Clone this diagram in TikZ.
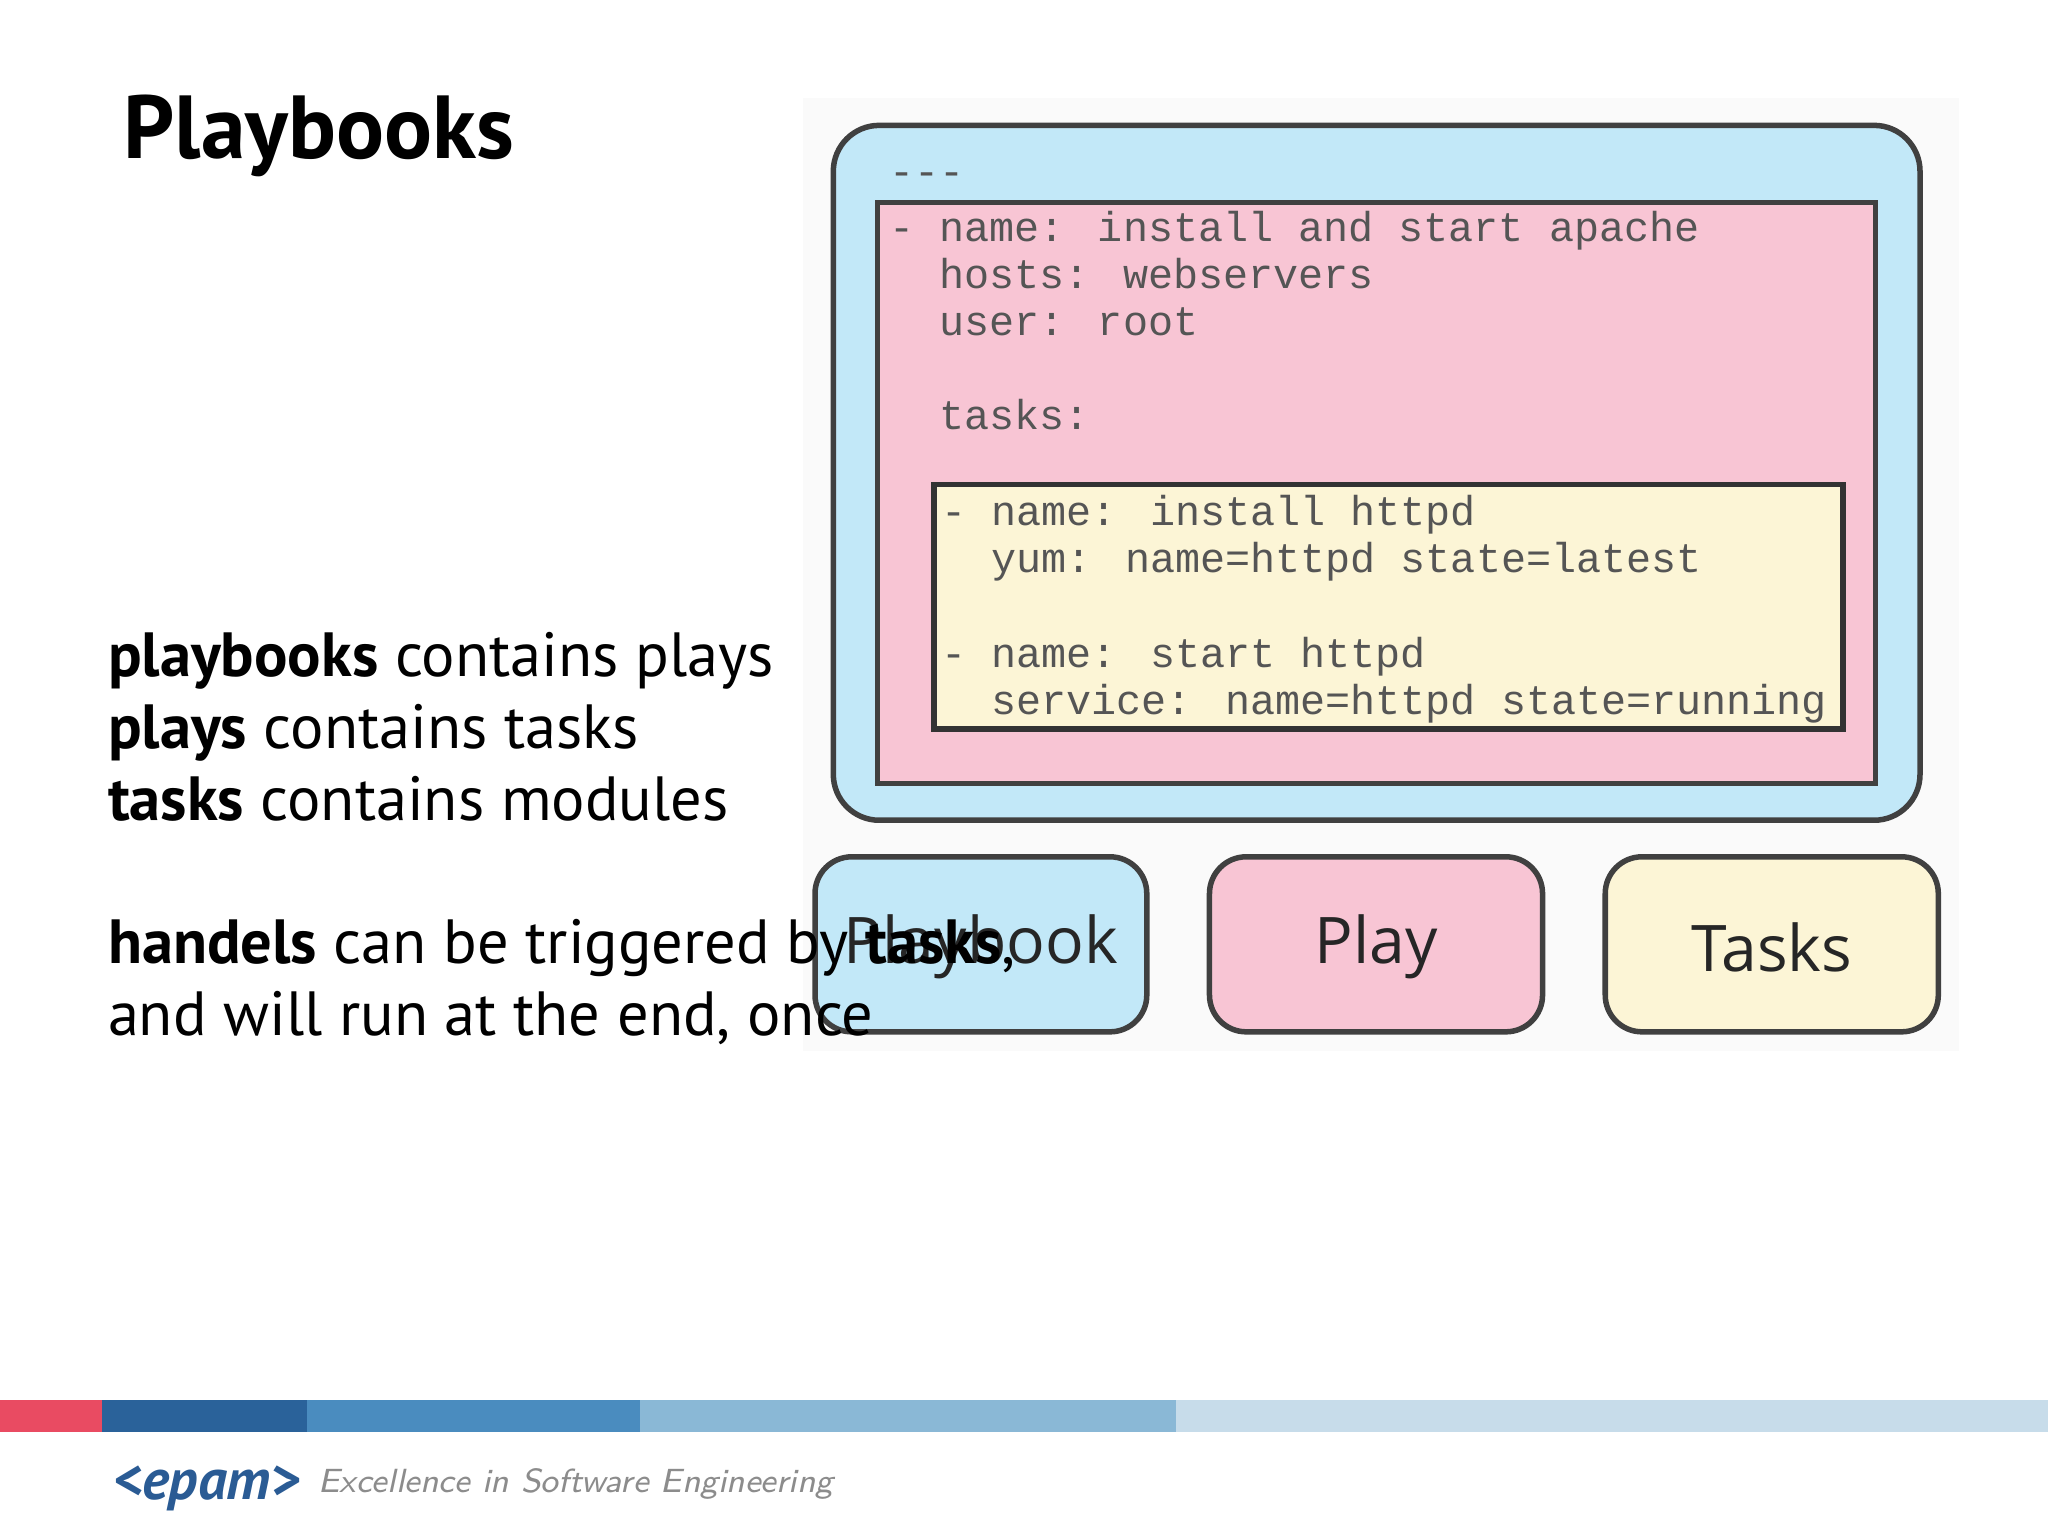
\documentclass[tikz,border=0pt]{standalone}
\usepackage{fontspec}
\setmainfont{PT Sans}
\newfontfamily\codefont{Liberation Mono}
\newfontfamily\lblfont{Open Sans}
\definecolor{pbblue}{HTML}{C2E8F8}
\definecolor{pbpink}{HTML}{F8C5D4}
\definecolor{pbyel}{HTML}{FCF5D6}
\definecolor{codeg}{HTML}{555555}
\definecolor{bar1}{HTML}{E94B62}
\definecolor{bar2}{HTML}{2A629A}
\definecolor{bar3}{HTML}{4A8CBF}
\definecolor{bar4}{HTML}{8AB8D6}
\definecolor{bar5}{HTML}{C7DCEA}
\definecolor{epamb}{HTML}{2A5B94}
\tikzset{
 code/.style={anchor=base west,inner sep=0pt,font=\codefont\fontsize{9.1}{11}\selectfont,text=codeg},
 btn/.style={draw=black!75,line width=1.2pt,rounded corners=8pt},
 btnlbl/.style={font=\lblfont\fontsize{14}{17}\selectfont,text=black!85},
 body/.style={anchor=base west,inner sep=0pt,font=\fontsize{13.6}{16}\selectfont}
}
\begin{document}
\begin{tikzpicture}[x=1cm,y=-1cm]
\useasboundingbox[fill=white] (0,0) rectangle (15.68,11.76);
\fill[black!2] (6.15,0.75) rectangle (15.0,8.05);
\node[anchor=base west,inner sep=0pt,font=\bfseries\fontsize{19.5}{21}\selectfont] (title) at (0.94,1.21) {Playbooks};
% code boxes
\draw[btn,fill=pbblue,rounded corners=10pt] (6.38,0.96) rectangle (14.70,6.28);
\draw[draw=black!75,line width=1.2pt,fill=pbpink] (6.72,1.55) rectangle (14.36,6.00);
\draw[draw=black!80,line width=1.2pt,fill=pbyel] (7.15,3.71) rectangle (14.11,5.58);
\node[code] (c0) at (6.80,1.42) {---};
\node[code] (c1) at (6.80,1.85) {- name: install and start apache};
\node[code] (c2) at (6.80,2.21) {\ \ hosts: webservers};
\node[code] (c3) at (6.80,2.57) {\ \ user: root};
\node[code] (c4) at (6.80,3.29) {\ \ tasks:};
\node[code] (c5) at (7.20,4.02) {- name: install httpd};
\node[code] (c6) at (7.20,4.38) {\ \ yum: name=httpd state=latest};
\node[code] (c7) at (7.20,5.11) {- name: start httpd};
\node[code] (c8) at (7.20,5.47) {\ \ service: name=httpd state=running};
% buttons
\draw[btn,fill=pbblue] (6.24,6.56) rectangle (8.78,7.90);
\draw[btn,fill=pbpink] (9.26,6.56) rectangle (11.81,7.90);
\draw[btn,fill=pbyel] (12.29,6.56) rectangle (14.84,7.90);
\node[btnlbl] (lpb) at (7.51,7.25) {Playbook};
\node[btnlbl] (lpl) at (10.535,7.25) {Play};
\node[btnlbl] (lta) at (13.565,7.25) {Tasks};
% body text
\node[body] (t1) at (0.82,5.18) {\textbf{playbooks} contains plays};
\node[body] (t2) at (0.82,5.73) {\textbf{plays} contains tasks};
\node[body] (t3) at (0.82,6.28) {\textbf{tasks} contains modules};
\node[body] (t4) at (0.82,7.38) {\textbf{handels} can be triggered by \textbf{tasks},};
\node[body] (t5) at (0.82,7.93) {and will run at the end, once};
% bottom bar
\fill[bar1] (0,10.72) rectangle (0.78,10.96);
\fill[bar2] (0.78,10.72) rectangle (2.35,10.96);
\fill[bar3] (2.35,10.72) rectangle (4.90,10.96);
\fill[bar4] (4.90,10.72) rectangle (9.00,10.96);
\fill[bar5] (9.00,10.72) rectangle (15.68,10.96);
\node[anchor=base west,inner sep=0pt,text=epamb,font=\bfseries\itshape\fontsize{12.5}{14}\selectfont] (logo) at (0.86,11.48) {<epam>};
\node[anchor=base west,inner sep=0pt,text=black!45,font=\sffamily\itshape\fontsize{7.3}{9}\selectfont] (slogan) at (2.43,11.43) {Excellence in Software Engineering};
\end{tikzpicture}
\end{document}
